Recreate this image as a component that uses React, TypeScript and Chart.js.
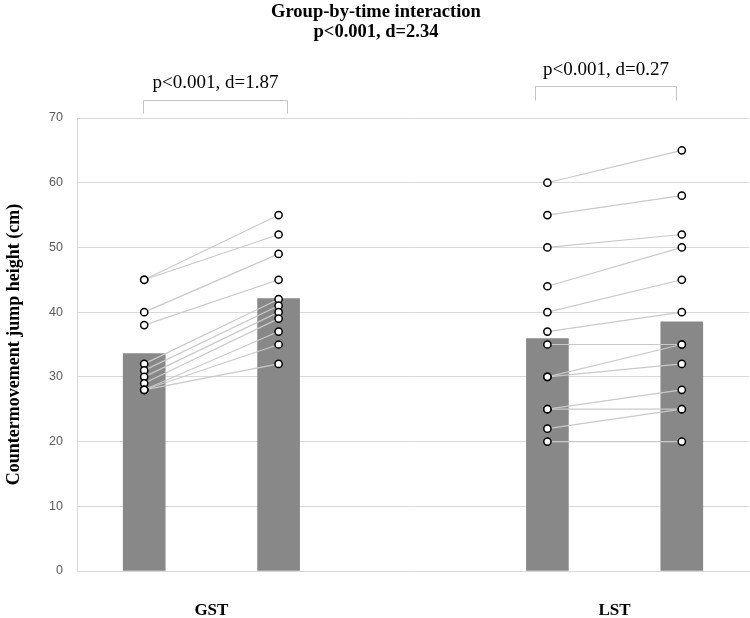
import { useEffect, useRef } from 'react';
import { Chart, registerables } from 'chart.js';

Chart.register(...registerables);

// ---- data ----
const groupLabels = ['GST', 'LST'];
const timePositions = [0.5, 1.5, 3.5, 4.5]; // GST pre, GST post, LST pre, LST post
const barMeans = [33.6, 42.1, 35.9, 38.5];
const gstPre = [45, 45, 40, 38, 32, 31, 30, 29, 28, 28, 28];
const gstPost = [55, 52, 49, 45, 42, 41, 40, 39, 37, 35, 32];
const lstPre = [60, 55, 50, 44, 40, 37, 35, 30, 30, 25, 25, 22, 20];
const lstPost = [65, 58, 52, 50, 45, 40, 35, 35, 32, 28, 25, 25, 20];
const yTickValues = [0, 10, 20, 30, 40, 50, 60, 70];
const titleLines = ['Group-by-time interaction', 'p<0.001, d=2.34'];
const pairLabels = ['p<0.001, d=1.87', 'p<0.001, d=0.27'];
const yAxisTitle = 'Countermovement jump height (cm)';

const SERIF = "'Liberation Serif', 'Times New Roman', serif";

const annotationPlugin = {
  id: 'annotations',
  afterDraw(chart: any) {
    const { ctx } = chart;
    const x = chart.scales.x;
    const y = chart.scales.y;
    ctx.save();
    ctx.fillStyle = '#000';
    ctx.textAlign = 'center';
    ctx.textBaseline = 'middle';
    ctx.font = `bold 18.5px ${SERIF}`;
    ctx.fillText(titleLines[0], 376, 12);
    ctx.fillText(titleLines[1], 376, 32);

    const brackets = [
      { x0: 0.49, x1: 1.56, top: 72.8, bottom: 70.8, text: 75.4 },
      { x0: 3.41, x1: 4.46, top: 75.0, bottom: 72.8, text: 77.4 },
    ];
    ctx.strokeStyle = '#c4c4c4';
    ctx.lineWidth = 1;
    brackets.forEach((b, i) => {
      const px0 = Math.round(x.getPixelForValue(b.x0)) + 0.5;
      const px1 = Math.round(x.getPixelForValue(b.x1)) + 0.5;
      const pt = Math.round(y.getPixelForValue(b.top)) + 0.5;
      const pb = Math.round(y.getPixelForValue(b.bottom)) + 0.5;
      ctx.beginPath();
      ctx.moveTo(px0, pb);
      ctx.lineTo(px0, pt);
      ctx.lineTo(px1, pt);
      ctx.lineTo(px1, pb);
      ctx.stroke();
      ctx.font = `19px ${SERIF}`;
      ctx.fillText(pairLabels[i], (px0 + px1) / 2, y.getPixelForValue(b.text));
    });
    ctx.restore();
  },
};

export default function App() {
  const ref = useRef<HTMLCanvasElement | null>(null);

  useEffect(() => {
    document.body.style.margin = '0';
    const canvas = ref.current;
    if (!canvas) return;

    const pairs: { pre: number; post: number; g: number }[] = [];
    gstPre.forEach((v, i) => pairs.push({ pre: v, post: gstPost[i], g: 0 }));
    lstPre.forEach((v, i) => pairs.push({ pre: v, post: lstPost[i], g: 1 }));

    const lineDatasets = pairs.map((p) => ({
      type: 'line' as const,
      data: [
        { x: timePositions[p.g * 2], y: p.pre },
        { x: timePositions[p.g * 2 + 1], y: p.post },
      ],
      borderColor: '#c9c9c9',
      borderWidth: 1.2,
      pointRadius: 0,
      fill: false,
      order: 1,
    }));

    const pointData = pairs.flatMap((p) => [
      { x: timePositions[p.g * 2], y: p.pre },
      { x: timePositions[p.g * 2 + 1], y: p.post },
    ]);

    const chart = new Chart(canvas, {
      type: 'bar',
      data: {
        datasets: [
          {
            type: 'scatter' as const,
            data: pointData,
            pointRadius: 3.6,
            pointBorderWidth: 1.5,
            pointBackgroundColor: '#ffffff',
            pointBorderColor: '#000000',
            showLine: false,
            order: 0,
          } as any,
          ...lineDatasets,
          {
            type: 'bar' as const,
            data: timePositions.map((xv, i) => ({ x: xv, y: barMeans[i] })),
            backgroundColor: '#888888',
            barThickness: 42,
            order: 2,
          } as any,
        ],
      },
      options: {
        responsive: false,
        animation: false,
        layout: { autoPadding: false, padding: { top: 118, right: 1, left: 0, bottom: 0 } },
        plugins: {
          legend: { display: false },
          tooltip: { enabled: false },
        },
        scales: {
          x: {
            type: 'linear',
            min: 0,
            max: 5,
            offset: false,
            grid: { display: false, offset: false },
            border: { display: true, color: '#d9d9d9' },
            afterBuildTicks: (scale: any) => {
              scale.ticks = [{ value: 1 }, { value: 4 }];
            },
            afterFit: (scale: any) => {
              scale.height = 47;
            },
            ticks: {
              padding: 21,
              color: '#000',
              font: { family: SERIF, size: 17, weight: 'bold' },
              callback: (_v: any, i: number) => groupLabels[i],
              maxRotation: 0,
              autoSkip: false,
            },
          },
          y: {
            min: 0,
            max: 70,
            afterBuildTicks: (scale: any) => {
              scale.ticks = yTickValues.map((v) => ({ value: v }));
            },
            afterFit: (scale: any) => {
              scale.width = 77;
            },
            grid: { color: '#d9d9d9', drawTicks: false },
            border: { display: true, color: '#d9d9d9' },
            ticks: {
              padding: 14,
              color: '#595959',
              font: { family: "'Liberation Sans', Arial, sans-serif", size: 12.5 },
            },
            title: {
              display: true,
              text: yAxisTitle,
              color: '#000',
              font: { family: SERIF, size: 18, weight: 'bold' },
              padding: { top: 4, bottom: 0 },
            },
          },
        },
      } as any,
      plugins: [annotationPlugin],
    });

    return () => chart.destroy();
  }, []);

  return (
    <div style={{ width: 750, height: 618 }}>
      <canvas ref={ref} width={750} height={618} style={{ display: 'block' }} />
    </div>
  );
}
